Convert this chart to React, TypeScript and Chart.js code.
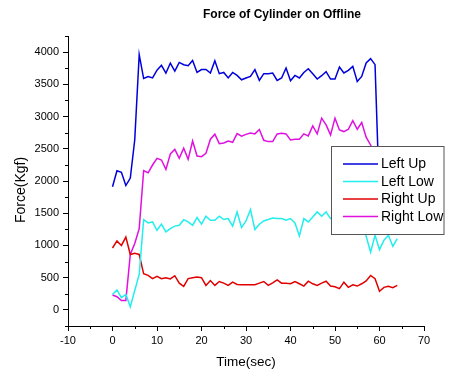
import React, { useEffect, useRef } from "react";
import { Chart, registerables } from "chart.js";

Chart.register(...registerables);

const timeSec = [0, 1, 2, 3, 4, 5, 6, 7, 8, 9, 10, 11, 12, 13, 14, 15, 16, 17, 18, 19, 20, 21, 22, 23, 24, 25, 26, 27, 28, 29, 30, 31, 32, 33, 34, 35, 36, 37, 38, 39, 40, 41, 42, 43, 44, 45, 46, 47, 48, 49, 50, 51, 52, 53, 54, 55, 56, 57, 58, 59, 60, 61, 62, 63, 64];

const leftUp = [1910, 2160, 2135, 1930, 2045, 2640, 3960, 3590, 3620, 3600, 3720, 3795, 3675, 3830, 3705, 3840, 3805, 3790, 3870, 3685, 3730, 3730, 3675, 3865, 3665, 3685, 3600, 3685, 3638, 3571, 3598, 3623, 3727, 3561, 3665, 3665, 3676, 3561, 3598, 3754, 3556, 3638, 3598, 3685, 3743, 3665, 3582, 3634, 3696, 3582, 3582, 3769, 3676, 3717, 3779, 3545, 3623, 3831, 3899, 3805, 1700, 1850, 1750, 1900, 1800];

const leftLow = [240, 310, 190, 240, 50, 300, 550, 1400, 1350, 1365, 1235, 1330, 1210, 1260, 1300, 1313, 1400, 1365, 1313, 1433, 1330, 1453, 1391, 1391, 1453, 1402, 1417, 1298, 1520, 1277, 1380, 1558, 1246, 1329, 1380, 1402, 1427, 1417, 1417, 1391, 1417, 1349, 1147, 1417, 1365, 1443, 1520, 1453, 1520, 1417, 1450, 1480, 1420, 1460, 1400, 1430, 1380, 1142, 897, 1157, 935, 1080, 1157, 986, 1106];

const rightUp = [960, 1070, 1000, 1130, 860, 880, 860, 560, 535, 485, 520, 485, 500, 480, 530, 415, 365, 485, 500, 510, 500, 380, 455, 380, 440, 415, 380, 430, 395, 390, 390, 390, 390, 415, 440, 380, 420, 465, 415, 415, 405, 440, 405, 370, 445, 405, 380, 415, 445, 370, 360, 330, 430, 350, 390, 370, 405, 450, 535, 485, 290, 350, 365, 345, 380];

const rightLow = [230, 205, 145, 145, 860, 1030, 1260, 2160, 2128, 2248, 2352, 2326, 2181, 2419, 2492, 2352, 2508, 2336, 2621, 2388, 2377, 2430, 2648, 2726, 2580, 2590, 2621, 2601, 2736, 2695, 2723, 2746, 2731, 2798, 2632, 2611, 2611, 2731, 2741, 2731, 2637, 2648, 2648, 2731, 2700, 2855, 2731, 2975, 2871, 2715, 2975, 2793, 2767, 2803, 2938, 2803, 2907, 2679, 2559, 2400, 2000, 1950, 1850, 1900, 1880];

const seriesNames = ["Left Up", "Left Low", "Right Up", "Right Low"];
const seriesColors = ["#0000dd", "#22eeee", "#e00000", "#e010e0"];

const xTicks = [-10, 0, 10, 20, 30, 40, 50, 60, 70];
const xMinorTicks = [-5, 5, 15, 25, 35, 45, 55, 65];
const yTicks = [0, 500, 1000, 1500, 2000, 2500, 3000, 3500, 4000];
const yMinorTicks = [-250, 250, 750, 1250, 1750, 2250, 2750, 3250, 3750, 4250];

const titleText = "Force of Cylinder on Offline";
const xTitle = "Time(sec)";
const yTitle = "Force(Kgf)";

const FONT = "'Liberation Sans', Arial, sans-serif";

const decorPlugin = {
  id: "decor",
  afterDraw(chart: any) {
    const ctx = chart.ctx;
    const xs = chart.scales.x;
    const ys = chart.scales.y;
    const area = chart.chartArea;
    ctx.save();
    // minor ticks
    ctx.strokeStyle = "#000";
    ctx.lineWidth = 1;
    ctx.beginPath();
    for (const v of xMinorTicks) {
      const px = Math.round(xs.getPixelForValue(v)) + 0.5;
      ctx.moveTo(px, area.bottom);
      ctx.lineTo(px, area.bottom + 3);
    }
    for (const v of yMinorTicks) {
      const py = Math.round(ys.getPixelForValue(v)) + 0.5;
      ctx.moveTo(area.left, py);
      ctx.lineTo(area.left - 3, py);
    }
    ctx.stroke();

    // title
    ctx.fillStyle = "#000";
    ctx.font = `bold 12px ${FONT}`;
    ctx.textAlign = "center";
    ctx.textBaseline = "middle";
    ctx.fillText(titleText, 282, 15);

    // axis titles
    ctx.font = `13.5px ${FONT}`;
    ctx.fillText(xTitle, (area.left + area.right) / 2, 362);
    ctx.save();
    ctx.translate(21, 190);
    ctx.rotate(-Math.PI / 2);
    ctx.font = `14px ${FONT}`;
    ctx.fillText(yTitle, 0, 0);
    ctx.restore();

    // legend box
    const bx = 331.5, by = 146.5, bw = 112.5, bh = 88;
    ctx.fillStyle = "#fff";
    ctx.fillRect(bx, by, bw, bh);
    ctx.strokeStyle = "#555";
    ctx.lineWidth = 1;
    ctx.strokeRect(bx, by, bw, bh);
    const rows = [164, 181.5, 199, 216.5];
    chart.data.datasets.forEach((ds: any, i: number) => {
      const y = rows[i];
      ctx.strokeStyle = ds.borderColor;
      ctx.lineWidth = 1.5;
      ctx.beginPath();
      ctx.moveTo(343, y);
      ctx.lineTo(378, y);
      ctx.stroke();
      ctx.fillStyle = "#000";
      ctx.font = `14px ${FONT}`;
      ctx.textAlign = "left";
      ctx.textBaseline = "middle";
      ctx.fillText(ds.label, 381, y + 0.5);
    });
    ctx.restore();
  },
};

export default function App() {
  const canvasRef = useRef<HTMLCanvasElement | null>(null);

  useEffect(() => {
    const canvas = canvasRef.current;
    if (!canvas) return;
    const allSeries = [leftUp, leftLow, rightUp, rightLow];
    const chart = new Chart(canvas, {
      type: "line",
      data: {
        datasets: allSeries.map((vals, i) => ({
          label: seriesNames[i],
          data: timeSec.map((t, k) => ({ x: t, y: vals[k] })),
          borderColor: seriesColors[i],
          backgroundColor: seriesColors[i],
          borderWidth: 1.5,
          pointRadius: 0,
          tension: 0,
          fill: false,
        })),
      },
      options: {
        responsive: false,
        animation: false,
        devicePixelRatio: 1,
        layout: { padding: { top: 36, right: 25, left: 0, bottom: 0 } },
        plugins: {
          legend: { display: false },
          title: { display: false },
          tooltip: { enabled: false },
        },
        scales: {
          x: {
            type: "linear",
            position: "bottom",
            min: -10,
            max: 70,
            afterBuildTicks: (s: any) => {
              s.ticks = xTicks.map((v) => ({ value: v }));
            },
            afterFit: (s: any) => {
              s.height = 50;
            },
            grid: {
              display: true,
              drawOnChartArea: false,
              drawTicks: true,
              tickLength: 5,
              tickColor: "#000",
              tickWidth: 1,
              color: "#000",
            },
            border: { display: true, color: "#000", width: 1 },
            ticks: {
              color: "#000",
              font: { family: FONT, size: 11 },
              padding: 3,
              maxRotation: 0,
              autoSkip: false,
              callback: (v: any) => String(v),
            },
          },
          y: {
            type: "linear",
            position: "left",
            min: -250,
            max: 4250,
            afterBuildTicks: (s: any) => {
              s.ticks = yTicks.map((v) => ({ value: v }));
            },
            afterFit: (s: any) => {
              s.width = 68;
            },
            grid: {
              display: true,
              drawOnChartArea: false,
              drawTicks: true,
              tickLength: 5,
              tickColor: "#000",
              tickWidth: 1,
              color: "#000",
            },
            border: { display: true, color: "#000", width: 1 },
            ticks: {
              color: "#000",
              font: { family: FONT, size: 11 },
              padding: 4,
              autoSkip: false,
              callback: (v: any) => String(v),
            },
          },
        },
      },
      plugins: [decorPlugin],
    });
    return () => chart.destroy();
  }, []);

  return (
    <div style={{ position: "fixed", left: 0, top: 0, width: 449, height: 376, background: "#fff" }}>
      <canvas ref={canvasRef} width={449} height={376} />
    </div>
  );
}
